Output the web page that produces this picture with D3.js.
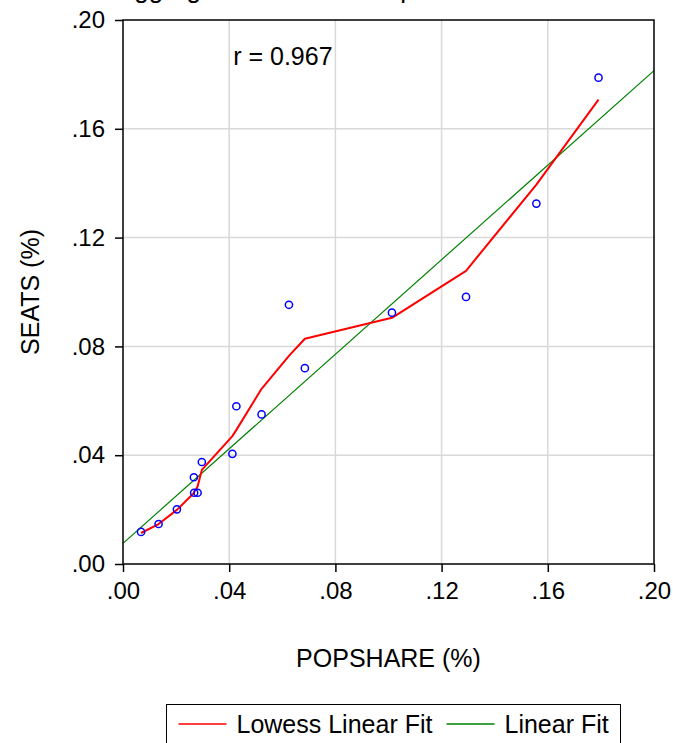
<!DOCTYPE html>
<meta charset="utf-8">
<style>

body {
  margin: 0;
  background: #fff;
}

text {
  font-family: "Liberation Sans", Arial, sans-serif;
  fill: #000;
}

.grid line {
  stroke: #d9d9d9;
  stroke-width: 1.5px;
}

.axis path,
.axis line {
  stroke: #000;
  stroke-width: 1.5px;
}

</style>
<body>
<script src="https://cdnjs.cloudflare.com/ajax/libs/d3/7.8.5/d3.min.js"></script>
<script>

var width = 673,
    height = 743;

// observed points (sorted by popshare)
var popshare = [0.0068, 0.0134, 0.0203, 0.0267, 0.0268, 0.0281, 0.0297, 0.0412, 0.0427, 0.0522, 0.0625, 0.0685, 0.1013, 0.1292, 0.1557, 0.1791],
    seats    = [0.0118, 0.0147, 0.0201, 0.0319, 0.0262, 0.0262, 0.0375, 0.0405, 0.0580, 0.0550, 0.0953, 0.0720, 0.0924, 0.0982, 0.1325, 0.1788];

// lowess fit evaluated at each popshare value
var lowessFit = [0.0114, 0.0147, 0.0199, 0.0261, 0.0265, 0.0285, 0.0346, 0.0470, 0.0493, 0.0644, 0.0765, 0.0828, 0.0905, 0.1078, 0.1395, 0.1707];

// linear fit, endpoints over the axis range
var linearX = [0.00, 0.20],
    linearY = [0.0076, 0.1814];

var xTicks = [0, 0.04, 0.08, 0.12, 0.16, 0.20],
    yTicks = [0, 0.04, 0.08, 0.12, 0.16, 0.20];

var legendLabels = ["Lowess Linear Fit", "Linear Fit"],
    legendColors = ["#ff0000", "#008000"];

var margin = {top: 20, right: 19, bottom: 179, left: 123},
    plotW = width - margin.left - margin.right,
    plotH = height - margin.top - margin.bottom;

var fmt = function(d) { return d3.format(".2f")(d).replace(/^0/, ""); };

var x = d3.scaleLinear()
    .domain([0, 0.2])
    .range([0, plotW]);

var y = d3.scaleLinear()
    .domain([0, 0.2])
    .range([plotH, 0]);

var svg = d3.select("body").append("svg")
    .attr("width", width)
    .attr("height", height);

// title, mostly cut off above the frame (as in the original)
svg.append("text")
    .attr("x", 117)
    .attr("y", -2)
    .style("font-size", "26px")
    .text("Aggregate Seats and Population Shares");

var g = svg.append("g")
    .attr("transform", "translate(" + margin.left + "," + margin.top + ")");

var grid = g.append("g").attr("class", "grid");

grid.selectAll(".gx")
    .data(xTicks.slice(1, -1))
  .enter().append("line")
    .attr("x1", x).attr("x2", x)
    .attr("y1", 0).attr("y2", plotH);

grid.selectAll(".gy")
    .data(yTicks.slice(1, -1))
  .enter().append("line")
    .attr("y1", y).attr("y2", y)
    .attr("x1", 0).attr("x2", plotW);

// linear fit
g.append("path")
    .datum(d3.zip(linearX, linearY))
    .attr("fill", "none")
    .attr("stroke", legendColors[1])
    .attr("stroke-width", 1.2)
    .attr("d", d3.line()
      .x(function(d) { return x(d[0]); })
      .y(function(d) { return y(d[1]); }));

// lowess fit
g.append("path")
    .datum(d3.zip(popshare, lowessFit))
    .attr("fill", "none")
    .attr("stroke", legendColors[0])
    .attr("stroke-width", 2)
    .attr("stroke-linejoin", "round")
    .attr("d", d3.line()
      .x(function(d) { return x(d[0]); })
      .y(function(d) { return y(d[1]); }));

g.selectAll(".dot")
    .data(d3.zip(popshare, seats))
  .enter().append("circle")
    .attr("cx", function(d) { return x(d[0]); })
    .attr("cy", function(d) { return y(d[1]); })
    .attr("r", 3.6)
    .attr("fill", "none")
    .attr("stroke", "#0000ff")
    .attr("stroke-width", 1.5);

// frame
g.append("rect")
    .attr("width", plotW)
    .attr("height", plotH)
    .attr("fill", "none")
    .attr("stroke", "#000")
    .attr("stroke-width", 1.5);

var xAxis = g.append("g")
    .attr("class", "axis")
    .attr("transform", "translate(0," + plotH + ")")
    .call(d3.axisBottom(x).tickValues(xTicks).tickFormat(fmt).tickSize(8).tickSizeOuter(0).tickPadding(10));

var yAxis = g.append("g")
    .attr("class", "axis")
    .call(d3.axisLeft(y).tickValues(yTicks).tickFormat(fmt).tickSize(8).tickSizeOuter(0).tickPadding(10));

svg.selectAll(".axis text")
    .style("font-family", "'Liberation Sans', Arial, sans-serif")
    .style("font-size", "24px");

svg.selectAll(".axis .domain").remove();

g.append("text")
    .attr("x", x(0.0415))
    .attr("y", 45)
    .style("font-size", "25px")
    .text("r = 0.967");

svg.append("text")
    .attr("x", margin.left + plotW / 2)
    .attr("y", 667)
    .attr("text-anchor", "middle")
    .style("font-size", "25px")
    .text("POPSHARE (%)");

svg.append("text")
    .attr("transform", "translate(39," + (margin.top + plotH / 2) + ")rotate(-90)")
    .attr("text-anchor", "middle")
    .style("font-size", "25px")
    .text("SEATS (%)");

// legend
var legend = svg.append("g")
    .attr("transform", "translate(166.5,704.5)");

legend.append("rect")
    .attr("width", 454)
    .attr("height", 50)
    .attr("fill", "#fff")
    .attr("stroke", "#000")
    .attr("stroke-width", 1);

var legendX = [12, 280];

var entries = legend.selectAll(".entry")
    .data(legendLabels)
  .enter().append("g")
    .attr("transform", function(d, i) { return "translate(" + legendX[i] + ",19.5)"; });

entries.append("line")
    .attr("x1", 0).attr("x2", 48)
    .attr("stroke", function(d, i) { return legendColors[i]; })
    .attr("stroke-width", 1.5);

entries.append("text")
    .attr("x", 58)
    .attr("y", 9)
    .style("font-size", "25px")
    .text(function(d) { return d; });

</script>
